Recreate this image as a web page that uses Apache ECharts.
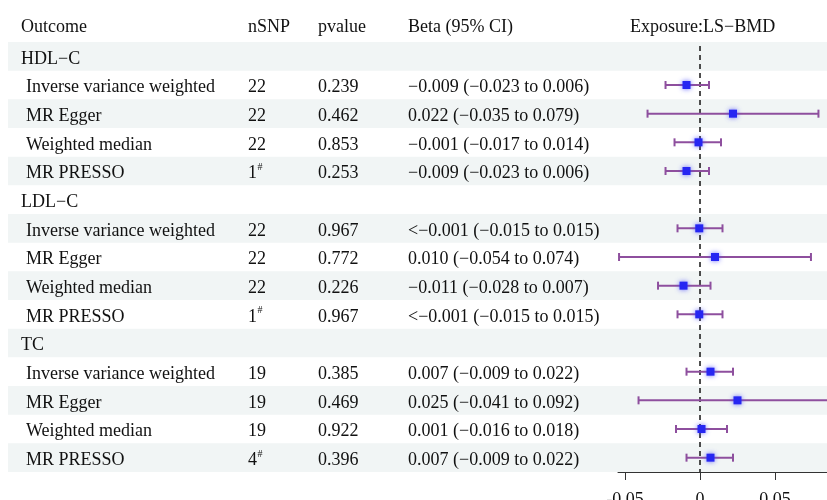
<!DOCTYPE html>
<html>
<head>
<meta charset="utf-8">
<script src="https://cdn.jsdelivr.net/npm/echarts@6/dist/echarts.min.js"></script>
<style>
  html, body { margin: 0; padding: 0; background: #fff; }
  #chart { width: 827px; height: 500px; }
</style>
</head>
<body>
<div id="chart"></div>
<script>
// Forest plot: MR estimates of LS-BMD on lipid outcomes
const outcomeLabels = [
  'HDL−C', 'Inverse variance weighted', 'MR Egger', 'Weighted median', 'MR PRESSO',
  'LDL−C', 'Inverse variance weighted', 'MR Egger', 'Weighted median', 'MR PRESSO',
  'TC', 'Inverse variance weighted', 'MR Egger', 'Weighted median', 'MR PRESSO'
];
const groupRows = [0, 5, 10];
const nSNP = ['', '22', '22', '22', '1', '', '22', '22', '22', '1', '', '19', '19', '19', '4'];
const nSNPMark = ['', '', '', '', '#', '', '', '', '', '#', '', '', '', '', '#'];
const pvalues = ['', '0.239', '0.462', '0.853', '0.253', '', '0.967', '0.772', '0.226', '0.967', '', '0.385', '0.469', '0.922', '0.396'];
const betaText = [
  '', '−0.009 (−0.023 to 0.006)', '0.022 (−0.035 to 0.079)', '−0.001 (−0.017 to 0.014)', '−0.009 (−0.023 to 0.006)',
  '', '<−0.001 (−0.015 to 0.015)', '0.010 (−0.054 to 0.074)', '−0.011 (−0.028 to 0.007)', '<−0.001 (−0.015 to 0.015)',
  '', '0.007 (−0.009 to 0.022)', '0.025 (−0.041 to 0.092)', '0.001 (−0.016 to 0.018)', '0.007 (−0.009 to 0.022)'
];
const beta  = [null, -0.009, 0.022, -0.001, -0.009, null, -0.0005, 0.010, -0.011, -0.0005, null, 0.007, 0.025, 0.001, 0.007];
const lower = [null, -0.023, -0.035, -0.017, -0.023, null, -0.015, -0.054, -0.028, -0.015, null, -0.009, -0.041, -0.016, -0.009];
const upper = [null, 0.006, 0.079, 0.014, 0.006, null, 0.015, 0.074, 0.007, 0.015, null, 0.022, 0.092, 0.018, 0.022];
const headers = ['Outcome', 'nSNP', 'pvalue', 'Beta (95% CI)', 'Exposure:LS−BMD'];
const xTicks = [-0.05, 0, 0.05];

const FONT = "'Times New Roman', 'Liberation Serif', serif";
const TEXT_COLOR = '#111';
const STRIPE = '#f1f5f5';
const CI_COLOR = '#8e4f9e';
const POINT_COLOR = '#2626f2';

const nRows = outcomeLabels.length;
const rowIdx = outcomeLabels.map((_, i) => i);

// column x positions (pixels) and baseline nudge for serif text
const COL = { outcome: 21, method: 26, nsnp: 248, pvalue: 318, beta: 408, plot: 630 };
const TEXT_DY = 2.5;

function txt(x, y, s, size) {
  return {
    type: 'text',
    x: x, y: y + TEXT_DY,
    style: {
      text: s, fill: TEXT_COLOR, fontSize: size || 18, fontFamily: FONT,
      align: 'left', verticalAlign: 'middle'
    }
  };
}

const chart = echarts.init(document.getElementById('chart'), null, { renderer: 'canvas' });

chart.setOption({
  animation: false,
  backgroundColor: '#fff',
  grid: { left: 618, right: 0, top: 42, bottom: 28, containLabel: false, outerBoundsMode: 'none' },
  xAxis: {
    type: 'value', min: -0.0547, max: 0.0847,
    splitLine: { show: false },
    axisLine: { show: true, onZero: false, lineStyle: { color: '#333', width: 1 } },
    axisTick: { show: true, customValues: xTicks, length: 8, lineStyle: { color: '#333', width: 1 } },
    axisLabel: {
      customValues: xTicks, fontSize: 18, fontFamily: FONT, color: TEXT_COLOR, margin: 19,
      formatter: v => (v === 0 ? '0' : v.toFixed(2))
    }
  },
  yAxis: { type: 'value', min: 0, max: 15, inverse: true, show: false },
  series: [
    // alternating row shading
    {
      type: 'custom', z: 1, clip: false, silent: true,
      data: rowIdx.filter(i => i % 2 === 0).map(i => [0, i]),
      renderItem: (params, api) => {
        const top = api.coord([0, api.value(1)])[1];
        const bot = api.coord([0, api.value(1) + 1])[1];
        return { type: 'rect', shape: { x: 8, y: top, width: 819, height: bot - top }, style: { fill: STRIPE } };
      }
    },
    // null-effect reference line
    {
      type: 'line', z: 2, silent: true, symbol: 'none',
      data: [[0, 0.14], [0, nRows]],
      lineStyle: { color: '#222', width: 1.6, type: [5, 4] }
    },
    // confidence intervals and point estimates
    {
      type: 'custom', z: 3, clip: false, silent: true,
      data: rowIdx.filter(i => beta[i] !== null).map(i => [beta[i], i + 0.5, lower[i], upper[i]]),
      renderItem: (params, api) => {
        const y = api.value(1);
        const pL = api.coord([api.value(2), y]);
        const pR = api.coord([api.value(3), y]);
        const pB = api.coord([api.value(0), y]);
        const cap = 4;
        const line = { stroke: CI_COLOR, lineWidth: 2 };
        return {
          type: 'group',
          children: [
            { type: 'line', shape: { x1: pL[0], y1: pL[1], x2: pR[0], y2: pR[1] }, style: line },
            { type: 'line', shape: { x1: pL[0], y1: pL[1] - cap, x2: pL[0], y2: pL[1] + cap }, style: line },
            { type: 'line', shape: { x1: pR[0], y1: pR[1] - cap, x2: pR[0], y2: pR[1] + cap }, style: line },
            {
              type: 'rect', shape: { x: pB[0] - 4, y: pB[1] - 4, width: 8, height: 8 },
              style: { fill: POINT_COLOR, shadowBlur: 5, shadowColor: 'rgba(70,70,255,0.8)' }
            }
          ]
        };
      }
    },
    // table text
    {
      type: 'custom', z: 4, clip: false, silent: true,
      data: rowIdx.map(i => [0, i + 0.5]),
      renderItem: (params, api) => {
        const i = params.dataIndex;
        const y = api.coord([0, api.value(1)])[1];
        const kids = [];
        if (groupRows.indexOf(i) >= 0) {
          kids.push(txt(COL.outcome, y, outcomeLabels[i]));
        } else {
          kids.push(txt(COL.method, y, outcomeLabels[i]));
          kids.push(txt(COL.nsnp, y, nSNP[i]));
          if (nSNPMark[i]) kids.push(txt(COL.nsnp + 9.5, y - 6, nSNPMark[i], 10));
          kids.push(txt(COL.pvalue, y, pvalues[i]));
          kids.push(txt(COL.beta, y, betaText[i]));
        }
        return { type: 'group', children: kids };
      }
    },
    // column headers
    {
      type: 'custom', z: 4, clip: false, silent: true,
      data: [[0, -0.6]],
      renderItem: (params, api) => {
        const y = api.coord([0, api.value(1)])[1];
        const xs = [COL.outcome, COL.nsnp, COL.pvalue, COL.beta, COL.plot];
        return { type: 'group', children: headers.map((h, k) => txt(xs[k], y, h)) };
      }
    }
  ]
});
</script>
</body>
</html>
